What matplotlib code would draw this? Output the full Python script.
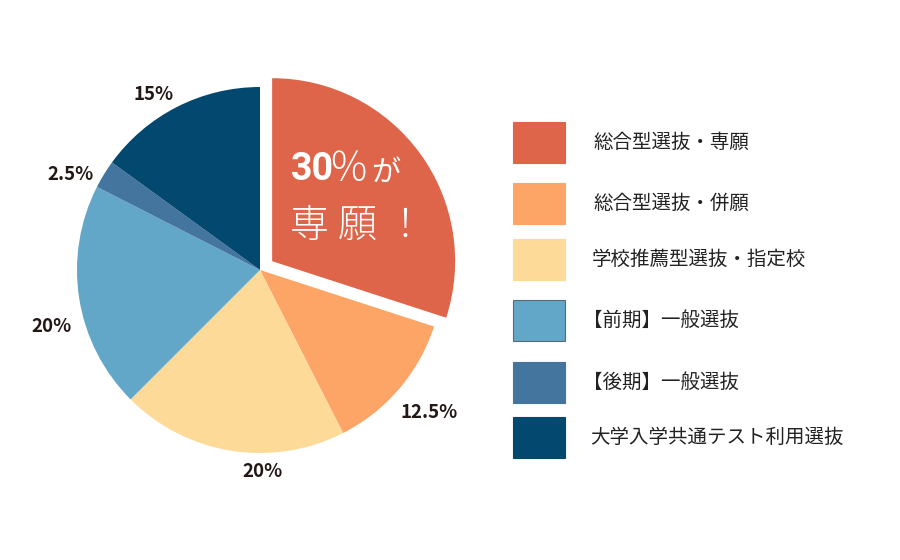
import numpy as np
import matplotlib.pyplot as plt
from matplotlib.patches import Rectangle

plt.rcParams['font.family'] = ['Noto Sans CJK JP', 'DejaVu Sans']

# data
categories = ['総合型選抜・専願', '総合型選抜・併願', '学校推薦型選抜・指定校',
              '【前期】一般選抜', '【後期】一般選抜', '大学入学共通テスト利用選抜']
shares = [30, 12.5, 20, 20, 2.5, 15]
pct_labels = ['30%', '12.5%', '20%', '20%', '2.5%', '15%']
colors = ['#DF654A', '#FDA567', '#FDDA97', '#62A6C8', '#43759F', '#03496F']

W, H = 900, 560
fig = plt.figure(figsize=(9, 5.6), dpi=100)
ax = fig.add_axes([0, 0, 1, 1])

cx, cy, R = 260, H - 270, 183
# explode is in data units here (pixels)
explode = [15, 0, 0, 0, 0, 0]
wedges, _ = ax.pie(shares, colors=colors, startangle=90, counterclock=False,
                   explode=explode, center=(cx, cy), radius=R, frame=True)

ax.set_xlim(0, W)
ax.set_ylim(0, H)
ax.set_aspect('equal')
ax.axis('off')

# percent labels outside the wedges (the big one is written inside)
label_r = [None, 1.21, 1.10, 1.18, 1.16, 1.12]
label_dt = [0, 0.4, 9.6, 6.1, 4.7, 4.2]
for w, lab, r, dt in zip(wedges, pct_labels, label_r, label_dt):
    if r is None:
        continue
    mid = np.deg2rad((w.theta1 + w.theta2) / 2 + dt)
    ax.text(cx + R * r * np.cos(mid), cy + R * r * np.sin(mid), lab,
            ha='center', va='center', fontsize=13.5, fontweight='bold',
            color='#231815')

# text inside the big slice
ax.text(291, H - 180, '30', fontsize=27, fontweight='bold', color='white',
        family=['Roboto', 'DejaVu Sans'], ha='left', va='baseline')
ax.text(328, H - 181, '％', fontsize=29, fontweight='light', color='white',
        ha='left', va='baseline')
ax.text(371, H - 181, 'が', fontsize=21, color='white', ha='left',
        va='baseline')
for ch, x in zip(['専', '願'], [290, 338]):
    ax.text(x, H - 226, ch, fontsize=28, color='white', ha='left',
            va='center', fontweight='light')
ax.text(405, H - 226, '！', fontsize=28, color='white', ha='center',
        va='center', fontweight='light')

# legend boxes
box_y = [142.5, 203.5, 259, 320.5, 382, 437.5]
label_x = [593, 593, 592, 583, 583, 590]
for name, col, yc, lx in zip(categories, colors, box_y, label_x):
    ec = '#5A6A78' if col == '#62A6C8' else col
    ax.add_patch(Rectangle((513, H - yc - 20.5), 52, 41, facecolor=col,
                           edgecolor=ec, linewidth=0.8))
    ax.text(lx, H - yc, name, fontsize=14, color='#222222',
            ha='left', va='center')

fig.savefig('out.png', dpi=100)
